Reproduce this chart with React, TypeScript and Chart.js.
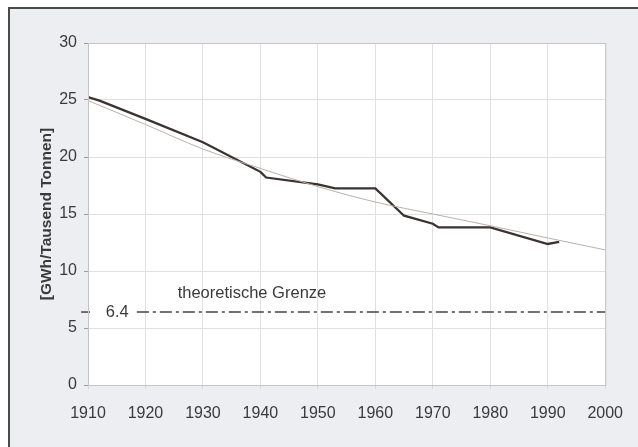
import React, { useEffect, useRef } from "react";
import { Chart, registerables } from "chart.js";

Chart.register(...registerables);

// ---- data ----
const actualYears = [1910, 1912, 1920, 1930, 1940, 1941, 1950, 1953, 1960, 1965, 1970, 1971, 1980, 1990, 1992];
const actualValues = [25.25, 24.95, 23.35, 21.3, 18.7, 18.2, 17.6, 17.25, 17.25, 14.85, 14.15, 13.82, 13.82, 12.37, 12.55];

const trendYears = [1910, 1920, 1930, 1940, 1950, 1960, 1970, 1980, 1990, 2000];
const trendValues = [24.95, 22.85, 20.7, 19.0, 17.4, 16.05, 15.0, 13.97, 12.9, 11.85];

const limitValue = 6.4;
const limitYears = [1918.5, 2000];
const limitMarkYears = [1908.8, 1910.35];
const limitLabel = "6.4";
const limitLabelYear = 1915.1;
const limitCaption = "theoretische Grenze";
const limitCaptionYear = 1925.6;
const limitCaptionValue = 8.05;

const xMin = 1910;
const xMax = 2000;
const xStep = 10;
const yMin = 0;
const yMax = 30;
const yStep = 5;
const yAxisTitle = "[GWh/Tausend Tonnen]";

const FONT = "'Liberation Sans', Arial, Helvetica, sans-serif";
const TEXT = "#3a3a3a";

const pts = (xs: number[], ys: number[]) => xs.map((x, i) => ({ x, y: ys[i] }));

const panelPlugin = {
  id: "panel",
  beforeDraw(chart: any) {
    const { ctx, width, height, chartArea } = chart;
    ctx.save();
    ctx.fillStyle = "#ffffff";
    ctx.fillRect(0, 0, width, height);
    ctx.fillStyle = "#eceef2";
    ctx.fillRect(10, 9, width - 10, height - 9);
    ctx.strokeStyle = "#4a4a4a";
    ctx.lineWidth = 2;
    ctx.beginPath();
    ctx.moveTo(9, height);
    ctx.lineTo(9, 8);
    ctx.lineTo(width, 8);
    ctx.stroke();
    ctx.fillStyle = "#ffffff";
    ctx.fillRect(chartArea.left, chartArea.top, chartArea.right - chartArea.left, chartArea.bottom - chartArea.top);
    ctx.restore();
  },
  afterDraw(chart: any) {
    const { ctx, chartArea } = chart;
    ctx.save();
    ctx.strokeStyle = "#c4c4c4";
    ctx.lineWidth = 1;
    ctx.strokeRect(chartArea.left + 0.5, chartArea.top + 0.5, chartArea.right - chartArea.left, chartArea.bottom - chartArea.top);
    ctx.restore();
  },
};

const labelPlugin = {
  id: "limitLabels",
  afterDatasetsDraw(chart: any) {
    const { ctx } = chart;
    const xs = chart.scales.x;
    const ys = chart.scales.y;
    ctx.save();
    ctx.fillStyle = TEXT;
    ctx.font = `16.5px ${FONT}`;
    ctx.textBaseline = "middle";
    ctx.textAlign = "center";
    ctx.fillText(limitLabel, xs.getPixelForValue(limitLabelYear), ys.getPixelForValue(limitValue));
    ctx.textAlign = "left";
    ctx.fillText(limitCaption, xs.getPixelForValue(limitCaptionYear), ys.getPixelForValue(limitCaptionValue));
    ctx.restore();
  },
};

export default function App() {
  const ref = useRef<HTMLCanvasElement | null>(null);

  useEffect(() => {
    if (!ref.current) return;
    const chart = new Chart(ref.current, {
      type: "line",
      data: {
        datasets: [
          {
            label: "Trend",
            data: pts(trendYears, trendValues),
            borderColor: "#b9b1aa",
            borderWidth: 1,
            pointRadius: 0,
            cubicInterpolationMode: "monotone",
            fill: false,
          },
          {
            label: "Verbrauch",
            data: pts(actualYears, actualValues),
            borderColor: "#3b3232",
            borderWidth: 2.3,
            pointRadius: 0,
            tension: 0,
            fill: false,
          },
          {
            label: "Grenze",
            data: pts(limitYears, [limitValue, limitValue]),
            borderColor: "#4a4242",
            borderWidth: 1.5,
            borderDash: [12, 4, 3, 4],
            pointRadius: 0,
            fill: false,
          },
          {
            label: "Grenze Marke",
            data: pts(limitMarkYears, [limitValue, limitValue]),
            borderColor: "#4a4242",
            borderWidth: 1.5,
            pointRadius: 0,
            fill: false,
            clip: false as any,
          },
        ],
      },
      options: {
        responsive: false,
        animation: false,
        maintainAspectRatio: false,
        layout: { padding: { left: 0, top: 43, right: 31, bottom: 0 } },
        plugins: {
          legend: { display: false },
          tooltip: { enabled: false },
        },
        scales: {
          x: {
            type: "linear",
            min: xMin,
            max: xMax,
            afterFit: (s: any) => {
              s.height = 62;
            },
            afterBuildTicks: (s: any) => {
              const t = [];
              for (let v = xMin; v <= xMax; v += xStep) t.push({ value: v });
              s.ticks = t;
            },
            ticks: {
              callback: (v: any) => String(v),
              color: TEXT,
              font: { family: FONT, size: 16 },
              padding: 15,
              maxRotation: 0,
            },
            grid: { color: "#e0e0e0", lineWidth: 1, tickLength: 4, tickColor: "#d8d8d8" },
            border: { color: "#b8b8b8", width: 1 },
          },
          y: {
            type: "linear",
            min: yMin,
            max: yMax,
            afterFit: (s: any) => {
              s.width = 88;
            },
            ticks: {
              stepSize: yStep,
              color: TEXT,
              font: { family: FONT, size: 16 },
              padding: 7,
            },
            grid: { color: "#e0e0e0", lineWidth: 1, tickLength: 4, tickColor: "#9a9a9a" },
            border: { color: "#b8b8b8", width: 1 },
            title: {
              display: true,
              text: yAxisTitle,
              color: TEXT,
              font: { family: FONT, size: 15.5, weight: "bold" },
              padding: { top: 37, bottom: 0 },
            },
          },
        },
      },
      plugins: [panelPlugin, labelPlugin],
    });
    return () => chart.destroy();
  }, []);

  return (
    <div style={{ position: "absolute", left: 0, top: 0, width: 638, height: 447 }}>
      <canvas ref={ref} width={638} height={447} style={{ display: "block", width: 638, height: 447 }} />
    </div>
  );
}
